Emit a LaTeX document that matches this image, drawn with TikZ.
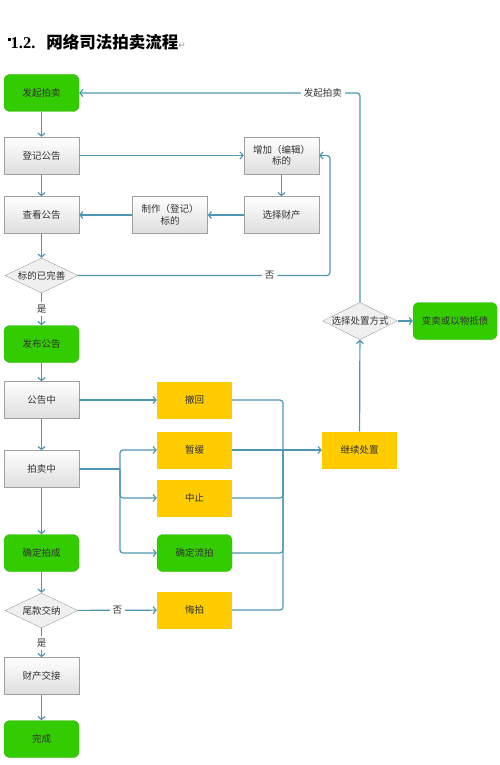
\documentclass[tikz,border=0pt]{standalone}
\usepackage{fontspec}
\setmainfont{Liberation Serif}
\newfontfamily\cjk{Noto Sans CJK SC}
\newfontfamily\symf{DejaVu Sans}
\usetikzlibrary{shapes.geometric,arrows.meta}
\definecolor{flowline}{RGB}{77,150,178}
\definecolor{grn}{RGB}{51,204,0}
\definecolor{grnedge}{RGB}{44,184,0}
\definecolor{ylw}{RGB}{255,204,0}
\definecolor{boxedge}{RGB}{160,160,160}
\definecolor{txt}{RGB}{50,50,50}
\tikzset{
  base/.style={minimum width=75, minimum height=37, inner sep=1, text=txt, align=center},
  grnbox/.style={base, fill=grn, draw=grnedge, rounded corners=6},
  graybox/.style={base, draw=boxedge, top color=white, bottom color=black!13},
  ybox/.style={base, fill=ylw},
  dia/.style={diamond, aspect=2, inner sep=0, minimum width=73, minimum height=35, draw=boxedge, fill=black!6, text=txt},
  flow/.style={draw=flowline, line width=1.2, -{Straight Barb[length=3,width=7]}},
  plain/.style={draw=flowline, line width=1.2},
  lbl/.style={fill=white, text=txt, inner sep=3}
}
\begin{document}
\begin{tikzpicture}[x=1pt, y=-1pt, font=\cjk\fontsize{9.5}{11.5}\selectfont]
\useasboundingbox (0,0) rectangle (500,765);

\node[anchor=base west, inner sep=0, font=\fontsize{16.5}{18}\selectfont] (title) at (8,49)
  {\raisebox{8pt}{\rule{2.5pt}{2.5pt}}\textbf{1.2.}\hspace{11pt}{\cjk\bfseries 网络司法拍卖流程}{\symf\fontsize{9}{9}\selectfont\color{black!40}↵}};

\node[grnbox] (start) at (41.5,93) {发起拍卖};
\node[graybox] (reg) at (41.5,155.5) {登记公告};
\node[graybox] (view) at (41.5,215) {查看公告};
\node[dia] (ok) at (41.5,275.5) {标的已完善};
\node[grnbox] (pub) at (41.5,344) {发布公告};
\node[graybox] (notice) at (41.5,400) {公告中};
\node[graybox] (bid) at (41.5,469) {拍卖中};
\node[grnbox] (deal) at (41.5,553) {确定拍成};
\node[dia] (pay) at (41.5,610.5) {尾款交纳};
\node[graybox] (hand) at (41.5,676) {财产交接};
\node[grnbox] (done) at (41.5,739) {完成};

\node[graybox] (make) at (170,215) {制作（登记）\\标的};
\node[graybox] (add) at (281.5,155.5) {增加（编辑）\\标的};
\node[graybox] (pick) at (281.5,215) {选择财产};

\node[ybox] (back) at (194.5,400) {撤回};
\node[ybox] (delay) at (194.5,450) {暂缓};
\node[ybox] (stop) at (194.5,498) {中止};
\node[grnbox] (fail) at (194.5,553) {确定流拍};
\node[ybox] (regret) at (194.5,610) {悔拍};

\node[ybox] (cont) at (359.5,450) {继续处置};
\node[dia] (way) at (360,321) {选择处置方式};
\node[grnbox, minimum width=84] (sell) at (455,321) {变卖或以物抵债};

\coordinate (okturn) at (330,275.5);
\coordinate (fork) at (120,469);
\coordinate (bus) at (283,450);

\draw[flow] (start) -- (reg);
\draw[flow] (reg) -- (view);
\draw[flow] (view) -- (ok);
\draw[flow] (ok) -- node[lbl]{是} (pub);
\draw[flow] (pub) -- (notice);
\draw[flow] (notice) -- (bid);
\draw[flow] (bid) -- (deal);
\draw[flow] (deal) -- (pay);
\draw[flow] (pay) -- node[lbl]{是} (hand);
\draw[flow] (hand) -- (done);

\draw[flow] (reg) -- (add);
\draw[flow] (add) -- (pick);
\draw[flow] (pick) -- (make);
\draw[flow] (make) -- (view);
\draw[flow, rounded corners=3] (ok.east) -- node[lbl, pos=0.76]{否} (okturn) |- (add.east);

\draw[flow] (notice) -- (back);
\draw[plain] (bid) -- (fork);
\draw[flow, rounded corners=3] (fork) |- (delay);
\draw[flow, rounded corners=3] (fork) |- (stop);
\draw[flow, rounded corners=3] (fork) |- (fail);
\draw[flow] (pay) -- node[lbl]{否} (regret);

\draw[plain, rounded corners=3] (back) -| (bus);
\draw[plain] (delay) -- (bus);
\draw[plain, rounded corners=3] (stop) -| (bus);
\draw[plain, rounded corners=3] (fail) -| (bus);
\draw[plain, rounded corners=3] (regret) -| (bus);
\draw[flow] (bus) -- (cont);

\draw[flow] (cont) -- (way);
\draw[flow] (way) -- (sell);
\draw[flow, rounded corners=3] (way.north) |- node[lbl, pos=0.566]{发起拍卖} (start.east);
\end{tikzpicture}
\end{document}
